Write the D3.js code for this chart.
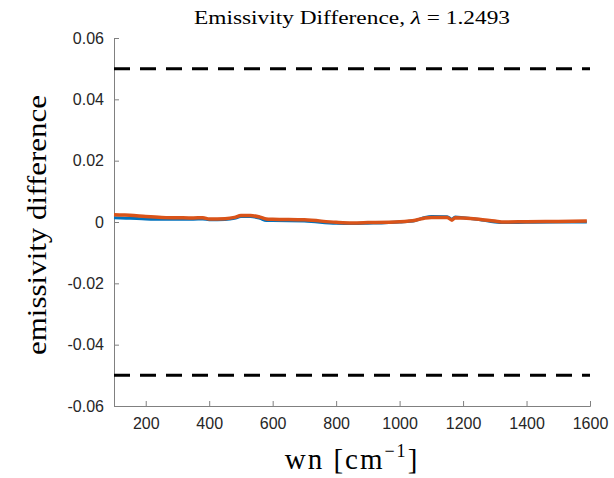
<!DOCTYPE html>
<html>
<head>
<meta charset="utf-8">
<script src="https://cdn.jsdelivr.net/npm/d3@7"></script>
<style>
  body { margin: 0; background: #fff; }
  svg { display: block; }
</style>
</head>
<body>
<div id="chart"></div>
<script>
// data (wavenumber, emissivity difference)
var wn = [100, 120, 150, 200, 250, 300, 350, 380, 400, 450, 480, 500, 530, 560, 580, 600, 700, 800, 850, 900, 1000, 1050, 1080, 1100, 1150, 1165, 1175, 1200, 1250, 1300, 1330, 1400, 1500, 1590]
var diffBlue = [0.0014, 0.0013, 0.0012, 0.0010, 0.0009, 0.0009, 0.0009, 0.0010, 0.0007, 0.0008, 0.0012, 0.0018, 0.0018, 0.0012, 0.0005, 0.0005, 0.0003, -0.0004, -0.0005, -0.0004, 0.0000, 0.0005, 0.0015, 0.0018, 0.0017, 0.0009, 0.0016, 0.0014, 0.0008, 0.0000, -0.0002, -0.0001, 0.0000, 0.0000]
var diffOrange = [0.0024, 0.0023, 0.0022, 0.0018, 0.0015, 0.0014, 0.0013, 0.0014, 0.0010, 0.0011, 0.0015, 0.0021, 0.0021, 0.0016, 0.0010, 0.0009, 0.0007, -0.0001, -0.0003, -0.0002, 0.0001, 0.0006, 0.0013, 0.0015, 0.0015, 0.0006, 0.0014, 0.0013, 0.0009, 0.0003, 0.0000, 0.0001, 0.0002, 0.0003]
var limits = [0.05, -0.05]
var xTicks = [200, 400, 600, 800, 1000, 1200, 1400, 1600]
var yTicks = [-0.06, -0.04, -0.02, 0, 0.02, 0.04, 0.06]

var width = 614, height = 478
var margin = {top: 38, right: 24, bottom: 72, left: 114}

var svg = d3.select("#chart")
  .append("svg")
  .attr("width", width)
  .attr("height", height)

var xScale = d3.scaleLinear()
  .domain([100, 1600])
  .range([margin.left, width - margin.right])

var yScale = d3.scaleLinear()
  .domain([-0.06, 0.06])
  .range([height - margin.bottom, margin.top])

// axes, ticks pointing inward
var xAxis = d3.axisBottom(xScale)
  .tickValues(xTicks)
  .tickSize(-5)
  .tickSizeOuter(-5)
  .tickPadding(12)
  .tickFormat(d => d.toString())

var yAxis = d3.axisLeft(yScale)
  .tickValues(yTicks)
  .tickSize(-5)
  .tickSizeOuter(-5)
  .tickPadding(10)
  .tickFormat(d => d === 0 ? "0" : d.toFixed(2))

svg.append("g")
  .attr("transform", `translate(0,${height - margin.bottom})`)
  .attr("class", "x-axis")
  .call(xAxis)

svg.append("g")
  .attr("transform", `translate(${margin.left},0)`)
  .attr("class", "y-axis")
  .call(yAxis)

svg.selectAll(".x-axis path, .y-axis path, .x-axis line, .y-axis line")
  .attr("stroke", "#808080")
  .attr("stroke-width", 1)

svg.selectAll(".x-axis text, .y-axis text")
  .attr("fill", "#262626")
  .style("font-family", "'Liberation Sans', Arial, sans-serif")
  .style("font-size", "16px")

// limit lines
svg.selectAll(".limit")
  .data(limits)
  .enter()
  .append("line")
  .attr("class", "limit")
  .attr("x1", xScale(100))
  .attr("x2", xScale(1600))
  .attr("y1", d => yScale(d))
  .attr("y2", d => yScale(d))
  .attr("stroke", "#000")
  .attr("stroke-width", 3)
  .attr("stroke-dasharray", "16,10")

// series
var pts = wn.map((w, i) => ({wn: w, blue: diffBlue[i], orange: diffOrange[i]}))

var lineBlue = d3.line()
  .x(d => xScale(d.wn))
  .y(d => yScale(d.blue))
  .curve(d3.curveMonotoneX)

var lineOrange = d3.line()
  .x(d => xScale(d.wn))
  .y(d => yScale(d.orange))
  .curve(d3.curveMonotoneX)

svg.append("path")
  .datum(pts)
  .attr("d", lineBlue)
  .attr("fill", "none")
  .attr("stroke", "#0072BD")
  .attr("stroke-width", 3)

svg.append("path")
  .datum(pts)
  .attr("d", lineOrange)
  .attr("fill", "none")
  .attr("stroke", "#D95319")
  .attr("stroke-width", 3.5)

// title and labels
svg.append("text")
  .attr("x", 352)
  .attr("y", 24)
  .attr("text-anchor", "middle")
  .attr("textLength", 316)
  .attr("lengthAdjust", "spacingAndGlyphs")
  .style("font-family", "'Liberation Serif', 'Times New Roman', serif")
  .style("font-size", "19px")
  .attr("fill", "#000")
  .html("Emissivity Difference, <tspan font-style='italic'>λ</tspan> = 1.2493")

svg.append("text")
  .attr("transform", `translate(46,225) rotate(-90)`)
  .attr("text-anchor", "middle")
  .attr("textLength", 260)
  .attr("lengthAdjust", "spacingAndGlyphs")
  .style("font-family", "'Liberation Serif', 'Times New Roman', serif")
  .style("font-size", "28px")
  .attr("fill", "#000")
  .text("emissivity difference")

svg.append("text")
  .attr("x", 352)
  .attr("y", 469)
  .attr("text-anchor", "middle")
  .style("font-family", "'Liberation Serif', 'Times New Roman', serif")
  .style("font-size", "29px")
  .style("letter-spacing", "2px")
  .attr("fill", "#000")
  .html("wn [cm<tspan font-size='18px' dy='-12'>−1</tspan><tspan dy='12'>]</tspan>")
</script>
</body>
</html>
